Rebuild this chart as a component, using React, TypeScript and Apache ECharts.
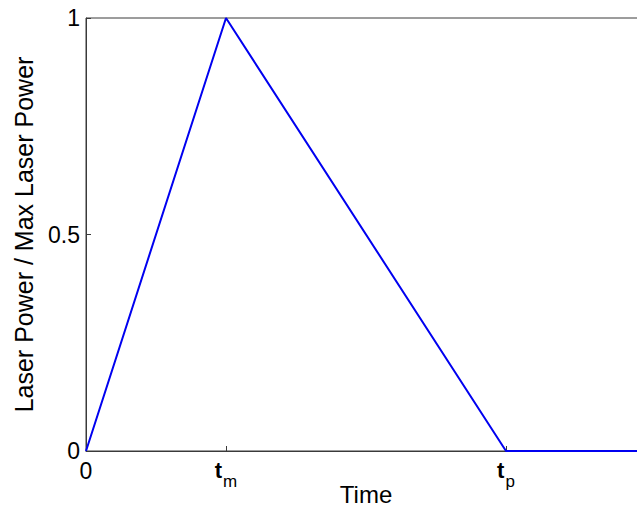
import React, { useEffect, useRef } from "react";
import * as echarts from "echarts";

const timePoints = [0, 1, 3, 4];
const powerValues = [0, 1, 0, 0];
const xTickValues = [0, 1, 3];
const xTickLabels = ["0", "{t|t}{s|m}", "{t|t}{s|p}"];
const yTickLabels = ["0", "0.5", "1"];

export default function App() {
  const ref = useRef<HTMLDivElement>(null);
  useEffect(() => {
    if (!ref.current) return;
    const chart = echarts.init(ref.current, null, { renderer: "svg" });
    const font = "Liberation Sans, Arial, Helvetica, sans-serif";
    chart.setOption({
      animation: false,
      backgroundColor: "#ffffff",
      grid: {
        left: 86,
        top: 18,
        right: 14,
        bottom: 59,
        containLabel: false,
        outerBoundsMode: "none",
        show: true,
        borderColor: "#3a3a3a",
        borderWidth: 1,
      },
      xAxis: {
        type: "value",
        min: 0,
        max: 4,
        name: "Time",
        nameLocation: "middle",
        nameGap: 31,
        nameMoveOverlap: false,
        nameTextStyle: { fontFamily: font, fontSize: 24, color: "#000", verticalAlign: "top" },
        axisLine: { show: true, lineStyle: { color: "#3a3a3a", width: 1 } },
        axisTick: {
          show: true,
          inside: true,
          length: 5,
          customValues: xTickValues,
          lineStyle: { color: "#3a3a3a" },
        },
        axisLabel: {
          customValues: xTickValues,
          margin: 8,
          fontFamily: font,
          fontSize: 23,
          color: "#000",
          formatter: (v: number) => {
            const i = xTickValues.indexOf(v);
            return i >= 0 ? xTickLabels[i] : "";
          },
          rich: {
            t: { fontFamily: font, fontSize: 22, fontWeight: "bold", color: "#000", verticalAlign: "top", lineHeight: 22 },
            s: { fontFamily: font, fontSize: 17, color: "#000", verticalAlign: "top", padding: [14, 0, 0, 1], lineHeight: 17 },
          },
        },
        splitLine: { show: false },
      },
      yAxis: {
        type: "value",
        min: 0,
        max: 1,
        interval: 0.5,
        name: "Laser Power / Max Laser Power",
        nameLocation: "middle",
        nameGap: 50,
        nameMoveOverlap: false,
        nameTextStyle: { fontFamily: font, fontSize: 25, color: "#000" },
        axisLine: { show: true, lineStyle: { color: "#3a3a3a", width: 1 } },
        axisTick: { show: true, inside: true, length: 5, lineStyle: { color: "#3a3a3a" } },
        axisLabel: {
          margin: 6,
          fontFamily: font,
          fontSize: 23,
          color: "#000",
          formatter: (v: number) => {
            const i = Math.round(v / 0.5);
            return yTickLabels[i] ?? "";
          },
        },
        splitLine: { show: false },
      },
      series: [
        {
          type: "line",
          data: timePoints.map((t, i) => [t, powerValues[i]]),
          showSymbol: false,
          symbol: "none",
          lineStyle: { color: "#0000f0", width: 2 },
          clip: false,
        },
      ],
    });
    return () => chart.dispose();
  }, []);
  return (
    <div style={{ position: "fixed", left: 0, top: 0, width: 637, height: 510, overflow: "hidden", background: "#fff" }}>
      <div ref={ref} style={{ width: 660, height: 510 }} />
    </div>
  );
}
